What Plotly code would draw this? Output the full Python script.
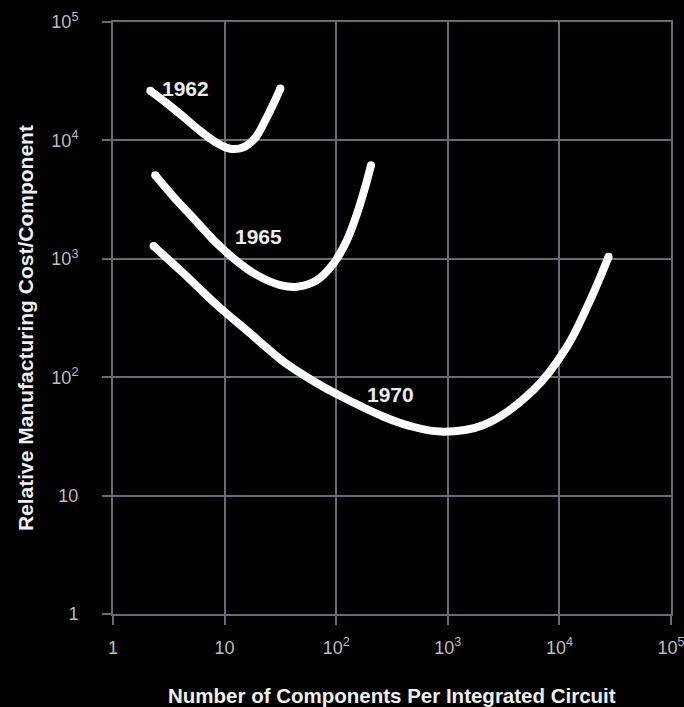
import math
import plotly.graph_objects as go

# ---- data ----
tick_vals = [1, 10, 100, 1000, 10000, 100000]
tick_text = ["1", "10", "10<sup>2</sup>", "10<sup>3</sup>", "10<sup>4</sup>", "10<sup>5</sup>"]

x_1962 = [2.16, 3.05, 4.29, 6.06, 8.55, 11.2, 14.8, 18.8, 23.2, 27.5, 31.6]
y_1962 = [26200, 20500, 15800, 12000, 9500, 8500, 8750, 10500, 14800, 20500, 27400]

x_1965 = [2.39, 3.49, 5.28, 7.97, 12.0, 19.5, 31.6, 44.5, 67.3, 94.8, 125, 154, 182, 205]
y_1965 = [5080, 3340, 2190, 1440, 1010, 728, 600, 581, 661, 914, 1440, 2420, 4050, 6180]

x_1970 = [2.31, 4.29, 8.55, 17.0, 33.8, 67.3, 109, 266, 461, 857, 2094, 5870, 11700, 18900, 27600]
y_1970 = [1280, 753, 406, 234, 135, 88.9, 69.3, 46.4, 38.7, 34.7, 39.5, 78.0, 181, 448, 1040]

series = [("1962", x_1962, y_1962), ("1965", x_1965, y_1965), ("1970", x_1970, y_1970)]

label_text = ["1962", "1965", "1970"]
label_x = [4.45, 20.0, 307]
label_y = [27600, 1556, 70.8]

x_title = "Number of Components Per Integrated Circuit"
y_title = "Relative Manufacturing Cost/Component"

# ---- style ----
GRID = "#5f7177"
FONT = "Liberation Sans, Arial, Helvetica, sans-serif"

fig = go.Figure()
for name, xs, ys in series:
    fig.add_trace(go.Scatter(
        x=xs, y=ys, mode="lines", name=name,
        line=dict(color="white", width=8, shape="spline", smoothing=1.0),
        hoverinfo="skip", showlegend=False,
    ))
    # round end caps
    fig.add_trace(go.Scatter(
        x=[xs[0], xs[-1]], y=[ys[0], ys[-1]], mode="markers",
        marker=dict(color="white", size=8, line=dict(width=0)),
        hoverinfo="skip", showlegend=False,
    ))

for t, lx, ly in zip(label_text, label_x, label_y):
    fig.add_annotation(x=math.log10(lx), y=math.log10(ly),
                       text="<b>%s</b>" % t, showarrow=False,
                       font=dict(family=FONT, size=21, color="#ececec"),
                       xanchor="center", yanchor="middle")

axis_common = dict(
    type="log", tickvals=tick_vals, ticktext=tick_text,
    showgrid=True, gridcolor=GRID, gridwidth=2,
    showline=True, linecolor=GRID, linewidth=2, mirror=True,
    ticks="outside", ticklen=9, tickwidth=2, tickcolor=GRID,
    tickfont=dict(family=FONT, size=18, color="#bdbdbd"),
    zeroline=False, fixedrange=True, automargin=False,
    ticklabeloverflow="allow",
)

fig.update_xaxes(range=[0, 5], ticklabelstandoff=7, **axis_common)
fig.update_yaxes(range=[0, 5], ticklabelstandoff=20, **axis_common)

fig.add_annotation(xref="paper", yref="paper", x=0.5, y=(614.3 - 695.5) / 592.6,
                   text="<b>%s</b>" % x_title, showarrow=False,
                   font=dict(family=FONT, size=20.5, color="#f0f0f0"),
                   xanchor="center", yanchor="middle")
fig.add_annotation(xref="paper", yref="paper", x=(25 - 112.7) / 558.0, y=(614.3 - 327.8) / 592.6,
                   text="<b>%s</b>" % y_title, showarrow=False, textangle=-90,
                   font=dict(family=FONT, size=21, color="#f0f0f0"),
                   xanchor="center", yanchor="middle")

fig.update_layout(
    width=684, height=707,
    margin=dict(l=112.7, r=13.3, t=21.7, b=92.7),
    paper_bgcolor="black", plot_bgcolor="black",
    showlegend=False,
)

fig.write_html("out.html", config={"displayModeBar": False},
               post_script="document.body.style.margin='0';document.body.style.background='black';")
